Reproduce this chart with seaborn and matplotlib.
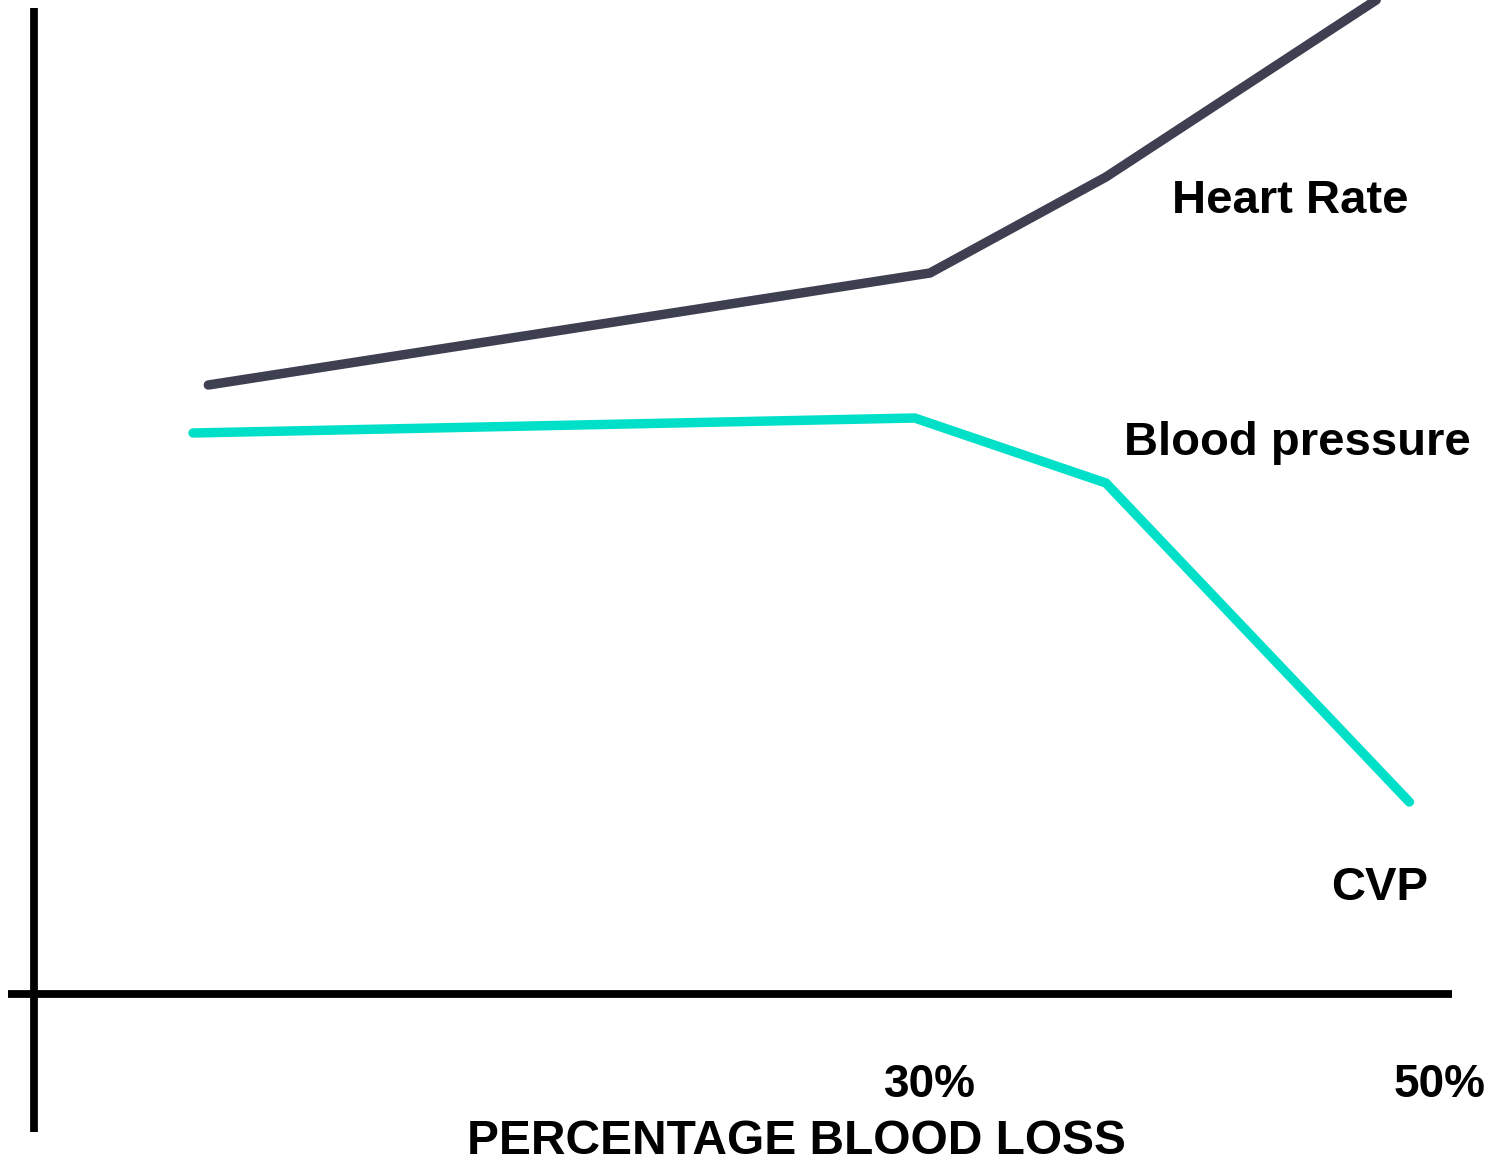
import matplotlib
matplotlib.use("Agg")
import matplotlib.pyplot as plt
import seaborn as sns
import pandas as pd
from matplotlib import font_manager

# ---- data (x: percentage blood loss, y: arbitrary units) ----
hr_x = [1.7, 30.0, 36.9, 47.5]
hr_y = [60.9, 72.1, 81.7, 99.4]
bp_x = [1.1, 29.4, 36.9, 48.8]
bp_y = [56.1, 57.6, 51.1, 19.2]
series_names = ["Heart Rate", "Blood pressure"]
tick_values = [30, 50]
tick_labels = ["30%", "50%"]
x_label = "PERCENTAGE BLOOD LOSS"

sns.set_theme(style="white")
plt.rcParams['font.family'] = ['Liberation Sans', 'DejaVu Sans']
plt.rcParams['text.color'] = 'black'

names = {f.name for f in font_manager.fontManager.ttflist}
narrow = 'Liberation Sans Narrow' if 'Liberation Sans Narrow' in names else 'Liberation Sans'

df = pd.DataFrame({
    "x": hr_x + bp_x,
    "y": hr_y + bp_y,
    "series": [series_names[0]] * len(hr_x) + [series_names[1]] * len(bp_x),
})

fig = plt.figure(figsize=(14.93, 11.64), dpi=100)
ax = fig.add_axes([0, 0, 1, 1])
ax.set_xlim(-6.47, 52.08)
ax.set_ylim(-17.0, 99.4)

sns.lineplot(data=df, x="x", y="y", hue="series",
             palette={series_names[0]: "#3f3f52", series_names[1]: "#00e0c8"},
             linewidth=6.8, legend=False, ax=ax, sort=False,
             solid_capstyle="round", solid_joinstyle="miter")

ax.axis("off")
# axes lines
ax.axhline(0, xmin=8 / 1493, xmax=1452 / 1493, color="black", lw=5.6, solid_capstyle="butt")
ax.axvline(-5.14, ymin=32 / 1164, ymax=1156 / 1164, color="black", lw=5.6, solid_capstyle="butt")

# series labels
ax.text(39.5, 78.1, "Heart Rate", fontsize=34, fontweight="bold", ha="left", va="baseline",
        color="black")
ax.text(37.6, 53.9, "Blood pressure", fontsize=34, fontweight="bold", ha="left", va="baseline",
        color="black")
ax.text(45.75, 9.4, "CVP", fontsize=34, fontweight="bold", ha="left", va="baseline",
        color="black")

# tick labels
for v, lab in zip(tick_values, tick_labels):
    ax.text(v, -10.3, lab, fontsize=33, fontweight="bold", ha="center", va="baseline",
            family=[narrow, 'DejaVu Sans'], color="black")
ax.text(24.75, -16.0, x_label, fontsize=34.5, fontweight="bold", ha="center", va="baseline",
        family=[narrow, 'DejaVu Sans'], color="black")

fig.savefig("out.png", dpi=100)
